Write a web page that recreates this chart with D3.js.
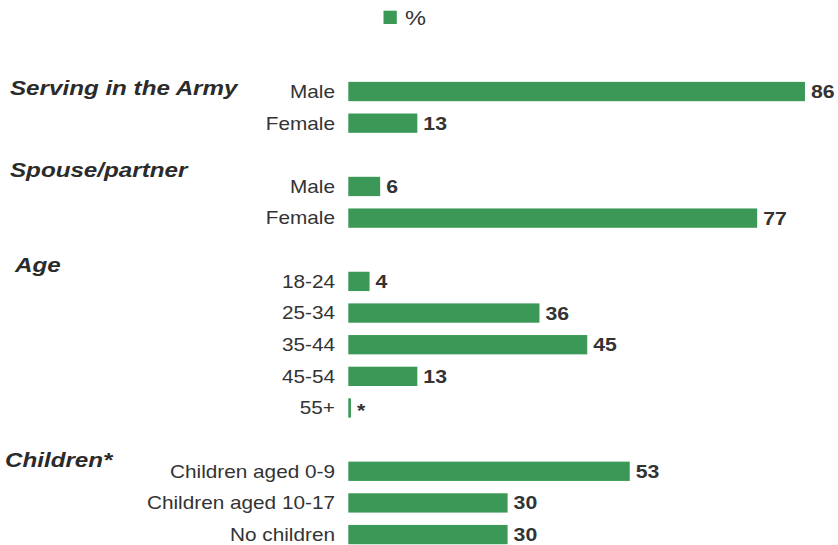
<!DOCTYPE html>
<html lang="en">
<head>
    <meta charset="UTF-8">
    <title>Army profile</title>
    <script src="https://cdnjs.cloudflare.com/ajax/libs/d3/7.8.5/d3.min.js"></script>
    <style>
        body {
            margin: 0;
            background: white;
            font-family: "Liberation Sans", Arial, sans-serif;
        }

        .cat {
            font-size: 17.6px;
            fill: #333;
        }

        .val {
            font-size: 18px;
            font-weight: bold;
            fill: #333;
        }

        .head {
            font-size: 20.5px;
            font-weight: bold;
            font-style: italic;
            fill: #2b2b2b;
        }
    </style>
</head>
<body>
<div id="chart"></div>
<script>
    // chart values
    const groups = ['Serving in the Army', 'Spouse/partner', 'Age', 'Children*'];
    const categories = ['Male', 'Female', 'Male', 'Female', '18-24', '25-34', '35-44', '45-54', '55+',
        'Children aged 0-9', 'Children aged 10-17', 'No children'];
    const groupOf = [0, 0, 1, 1, 2, 2, 2, 2, 2, 3, 3, 3];
    const values = [86, 13, 6, 77, 4, 36, 45, 13, 0.5, 53, 30, 30];
    const valueLabels = ['86', '13', '6', '77', '4', '36', '45', '13', '*', '53', '30', '30'];
    const seriesName = '%';

    function draw() {
        const width = 838;
        const height = 545;
        const green = '#3b9856';
        const stretch = 1.18; // the original text is drawn slightly wide

        const svg = d3.select('#chart').append('svg')
            .attr('width', width)
            .attr('height', height);

        const place = (x, y) => `translate(${x},${y}) scale(${stretch},1)`;

        // one band slot per row, with an empty slot between groups
        const slots = [];
        const rowSlot = [];
        categories.forEach((c, i) => {
            if (i > 0 && groupOf[i] !== groupOf[i - 1]) slots.push('gap' + i);
            rowSlot.push('row' + i);
            slots.push('row' + i);
        });

        const y = d3.scaleBand()
            .domain(slots)
            .range([75.7, 550.4])
            .paddingInner(0.39)
            .paddingOuter(0.195);

        const x = d3.scaleLinear()
            .domain([0, 100])
            .range([348.3, 879.3]);

        const mid = i => y(rowSlot[i]) + y.bandwidth() / 2;

        const rows = svg.selectAll('g.row')
            .data(values)
            .join('g')
            .attr('class', 'row');

        rows.append('rect')
            .attr('x', x(0))
            .attr('y', (d, i) => y(rowSlot[i]))
            .attr('width', d => x(d) - x(0))
            .attr('height', y.bandwidth())
            .attr('fill', green);

        rows.append('text')
            .attr('class', 'val')
            .attr('transform', (d, i) => place(x(d) + 6, mid(i)))
            .attr('dy', (d, i) => valueLabels[i] === '*' ? '0.5em' : '0.36em')
            .text((d, i) => valueLabels[i]);

        rows.append('text')
            .attr('class', 'cat')
            .attr('transform', (d, i) => place(335, mid(i)))
            .attr('dy', '0.36em')
            .attr('text-anchor', 'end')
            .text((d, i) => categories[i]);

        // group headings sit near the first row of each group
        const headX = [10, 10, 15, 5];
        const headDy = [3.5, -9.3, -9.6, -4.6];
        groups.forEach((g, gi) => {
            const first = groupOf.indexOf(gi);
            svg.append('text')
                .attr('class', 'head')
                .attr('transform', place(headX[gi], mid(first) + headDy[gi]))
                .text(g);
        });

        // legend
        const legend = svg.append('g');
        legend.append('rect')
            .attr('x', 383.5).attr('y', 10.7)
            .attr('width', 13.3).attr('height', 13.3)
            .attr('fill', green);
        legend.append('text')
            .attr('class', 'cat')
            .attr('transform', place(405, 25))
            .style('font-size', '20px')
            .text(seriesName);
    }

    document.addEventListener('DOMContentLoaded', draw);
</script>
</body>
</html>
